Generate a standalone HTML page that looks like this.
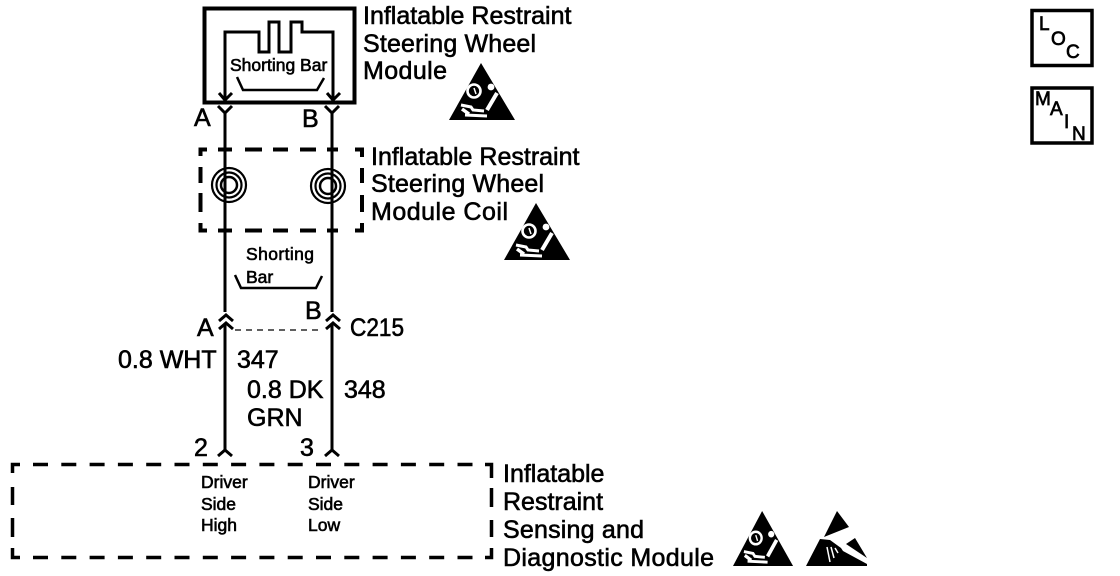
<!DOCTYPE html>
<html><head><meta charset="utf-8"><style>
html,body{margin:0;padding:0;background:#fff}
svg{display:block}
text{font-family:"Liberation Sans",sans-serif;fill:#000;stroke:#000;stroke-width:.6px}
.b{font-size:25px}.s{font-size:17.5px;stroke-width:.6px}.l{font-size:19px;stroke-width:.7px}
</style></head><body>
<svg width="1120" height="576" viewBox="0 0 1120 576" xmlns="http://www.w3.org/2000/svg">
<defs>
<g id="tri">
<path d="M32 0L66 57L0 57Z" fill="#000"/>
<g fill="none" stroke="#fff">
<circle cx="25" cy="28" r="6.500" stroke-width="2.600"/>
<path d="M25 25L27 31" stroke-width="1.500"/>
<path d="M48 30L38 47" stroke-width="4"/>
<path d="M12 42L22 44L24 47L35 48M16 52L38 53" stroke-width="3"/>
<path d="M13 46L20 51" stroke-width="3.500"/>
</g>
<circle cx="42" cy="24" r="3.400" fill="#fff"/>
</g>
</defs>
<g fill="none" stroke="#000">
<!-- top module -->
<rect x="204.500" y="8.500" width="150" height="94" stroke-width="4"/>
<path d="M225 100V32H259V52H269V22H279V52H291V22H302V32H333V100" stroke-width="3"/>
<path d="M219 93L225 100L232 93M327 93L333 100L340 93" stroke-width="3"/>
<path d="M237 77L243 90H317L324 78" stroke-width="2.500"/>
<!-- Y connectors and wires -->
<path d="M225 113V312M218 106L225 113L232 106M332 113V312M325 106L332 113L339 106" stroke-width="3"/>
<!-- coil box -->
<path d="M200.500 156V149.500H207M218 149.500H232M245 149.500H262M273 149.500H288M300 149.500H316M327 149.500H338M355 149.500H362V157M200.500 167V183M200.500 193V212M200.500 223V230.500H207M362 168V183M362 195V212M362 223V230.500H355M218 230.500H232M245 230.500H262M273 230.500H288M300 230.500H316M327 230.500H338" stroke-width="4"/>
<circle cx="229" cy="185" r="17" stroke-width="2.200"/><circle cx="229" cy="185" r="12.500" stroke-width="2.200"/><circle cx="229" cy="185" r="8" stroke-width="2.500"/>
<circle cx="328" cy="186" r="17" stroke-width="2.200"/><circle cx="328" cy="186" r="12.500" stroke-width="2.200"/><circle cx="328" cy="186" r="8" stroke-width="2.500"/>
<!-- lower shorting bar -->
<path d="M235 275L241 288H316L322 276" stroke-width="2.500"/>
<!-- C215 -->
<path d="M219 321L226 315L233 321M219 329L226 323L233 329M326 321L333 315L340 321M326 329L333 323L340 329" stroke-width="3"/>
<path d="M235 330H322" stroke-width="1.200" stroke-dasharray="6 5"/>
<path d="M225 323V450M332 323V450M218 456L225 450L232 456M325 456L332 450L339 456" stroke-width="3"/>
<!-- SDM box -->
<path d="M33 464.500H485M33 557.500H485" stroke-width="3.500" stroke-dasharray="15 13.300"/>
<path d="M20 464.500H12.500V473M12.500 487V505M12.500 518V537M12.500 548V557.500H20M485 464.500H491.500V478M491.500 488V507M491.500 520V537M491.500 548V557.500H485" stroke-width="3.500"/>
<!-- LOC / MAIN -->
<rect x="1032" y="10.500" width="60" height="55" stroke-width="3.500"/>
<rect x="1032" y="88" width="60" height="55" stroke-width="3.500"/>
</g>
<use href="#tri" x="449" y="63"/>
<use href="#tri" x="504" y="203"/>
<use href="#tri" transform="translate(733 511) scale(.91 .965)"/>
<!-- ESD -->
<path d="M837 511L849 527L824 537Z M820 539L806 566H867V564L843 551L841 548L830 540Z M855 538L867 558L846 544Z" fill="#000"/>
<path d="M827 547L830 562M831 547L834 558M835 548L838 553" fill="none" stroke="#fff" stroke-width="1.500"/>
<text class="b" x="363" y="24">Inflatable Restraint</text>
<text class="b" x="363" y="52" textLength="173">Steering Wheel</text>
<text class="b" x="363" y="79" textLength="84">Module</text>
<text class="b" x="371" y="165">Inflatable Restraint</text>
<text class="b" x="371" y="192" textLength="173">Steering Wheel</text>
<text class="b" x="371" y="220" textLength="137">Module Coil</text>
<text class="s" x="230" y="71">Shorting Bar</text>
<text class="b" x="194" y="126">A</text>
<text class="b" x="302" y="127">B</text>
<text class="s" x="246" y="260" textLength="68">Shorting</text>
<text class="s" x="246" y="283">Bar</text>
<text class="b" x="197" y="336">A</text>
<text class="b" x="305" y="319">B</text>
<text class="b" x="350" y="336" textLength="54" lengthAdjust="spacingAndGlyphs">C215</text>
<text class="b" x="118" y="368">0.8 WHT</text>
<text class="b" x="237" y="368">347</text>
<text class="b" x="247" y="398">0.8 DK</text>
<text class="b" x="247" y="426">GRN</text>
<text class="b" x="344" y="398">348</text>
<text class="b" x="194" y="456">2</text>
<text class="b" x="300" y="456">3</text>
<text class="s" x="201" y="488">Driver</text>
<text class="s" x="201" y="510">Side</text>
<text class="s" x="201" y="531">High</text>
<text class="s" x="308" y="488">Driver</text>
<text class="s" x="308" y="510">Side</text>
<text class="s" x="308" y="531">Low</text>
<text class="b" x="503" y="482">Inflatable</text>
<text class="b" x="503" y="510">Restraint</text>
<text class="b" x="503" y="538" textLength="141">Sensing and</text>
<text class="b" x="503" y="566" textLength="211">Diagnostic Module</text>
<text class="l" x="1039" y="30">L</text>
<text class="l" x="1051" y="45">O</text>
<text class="l" x="1066" y="58">C</text>
<text class="l" x="1035" y="105">M</text>
<text class="l" x="1050" y="115">A</text>
<text class="l" x="1064" y="128">I</text>
<text class="l" x="1072" y="140">N</text>
</svg>
</body></html>
